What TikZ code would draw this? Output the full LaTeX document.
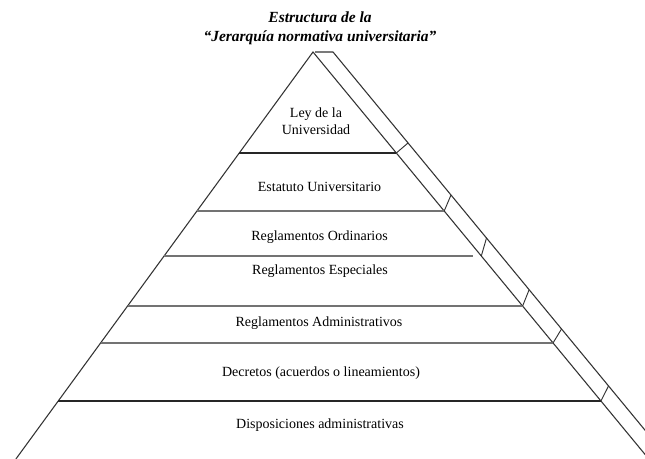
\documentclass[tikz,border=0pt]{standalone}
\usepackage{fontspec}
\setmainfont{Liberation Serif}
\begin{document}
\begin{tikzpicture}[x=0.75pt,y=-0.75pt,
  edge/.style={draw=black!80,line width=0.8pt},
  layer/.style={draw=black!55,line width=0.9pt},
  darklayer/.style={draw=black!85,line width=0.9pt},
  tick/.style={draw=black!80,line width=0.7pt},
  lbl/.style={font=\fontsize{10.5}{12}\selectfont,anchor=base,inner sep=0pt},
  ttl/.style={font=\fontsize{11.6}{13}\selectfont\bfseries\itshape,anchor=base,inner sep=0pt}]
\useasboundingbox (0,0) rectangle (645,459);
\fill[white] (0,0) rectangle (645,459);
\clip (0,0) rectangle (645,459);
% key points
\coordinate (apex) at (313,52);
\coordinate (topA) at (315,52);
\coordinate (topB) at (333,52);
\coordinate (leftBot) at (15.9,459);
\coordinate (rightBot) at (648.8,459);
\coordinate (outerBot) at (668.8,459);
% pyramid edges
\draw[edge] (leftBot) -- (apex) -- (rightBot);
\draw[edge] (topA) -- (topB) -- (outerBot);
% layer lines
\coordinate (l1a) at (239.3,153); \coordinate (l1b) at (396.3,153);
\coordinate (l2a) at (196.9,211); \coordinate (l2b) at (444.2,211);
\coordinate (l3a) at (164.1,256); \coordinate (l3b) at (473,256); \coordinate (l3e) at (481.3,256);
\coordinate (l4a) at (127.6,306); \coordinate (l4b) at (522.6,306);
\coordinate (l5a) at (100.6,343); \coordinate (l5b) at (553,343);
\coordinate (l6a) at (58.2,401);  \coordinate (l6b) at (600.9,401);
\draw[darklayer] (l1a) -- (l1b);
\draw[layer] (l2a) -- (l2b);
\draw[layer] (l3a) -- (l3b);
\draw[layer] (l4a) -- (l4b);
\draw[layer] (l5a) -- (l5b);
\draw[darklayer] (l6a) -- (l6b);
% ticks to outer edge
\coordinate (o1) at (408,143);
\coordinate (o2) at (451,195);
\coordinate (o3) at (486.5,238);
\coordinate (o4) at (529,290);
\coordinate (o5) at (561.5,329);
\coordinate (o6) at (608.5,386);
\draw[tick] (l1b) -- (o1);
\draw[tick] (l2b) -- (o2);
\draw[tick] (l3e) -- (o3);
\draw[tick] (l4b) -- (o4);
\draw[tick] (l5b) -- (o5);
\draw[tick] (l6b) -- (o6);
% title
\node[ttl] (t1) at (320,23) {Estructura de la};
\node[ttl] (t2) at (320,41.5) {“Jerarquía normativa universitaria”};
% labels
\node[lbl] (ley1) at (316,117.3) {Ley de la};
\node[lbl] (ley2) at (316,134.3) {Universidad};
\node[lbl] (est) at (319.5,191.7) {Estatuto Universitario};
\node[lbl] (ord) at (319.5,241) {Reglamentos Ordinarios};
\node[lbl] (esp) at (320,275) {Reglamentos Especiales};
\node[lbl] (adm) at (319,326.7) {Reglamentos Administrativos};
\node[lbl] (dec) at (321,376.7) {Decretos (acuerdos o lineamientos)};
\node[lbl] (dis) at (320,428.3) {Disposiciones administrativas};
\end{tikzpicture}
\end{document}
